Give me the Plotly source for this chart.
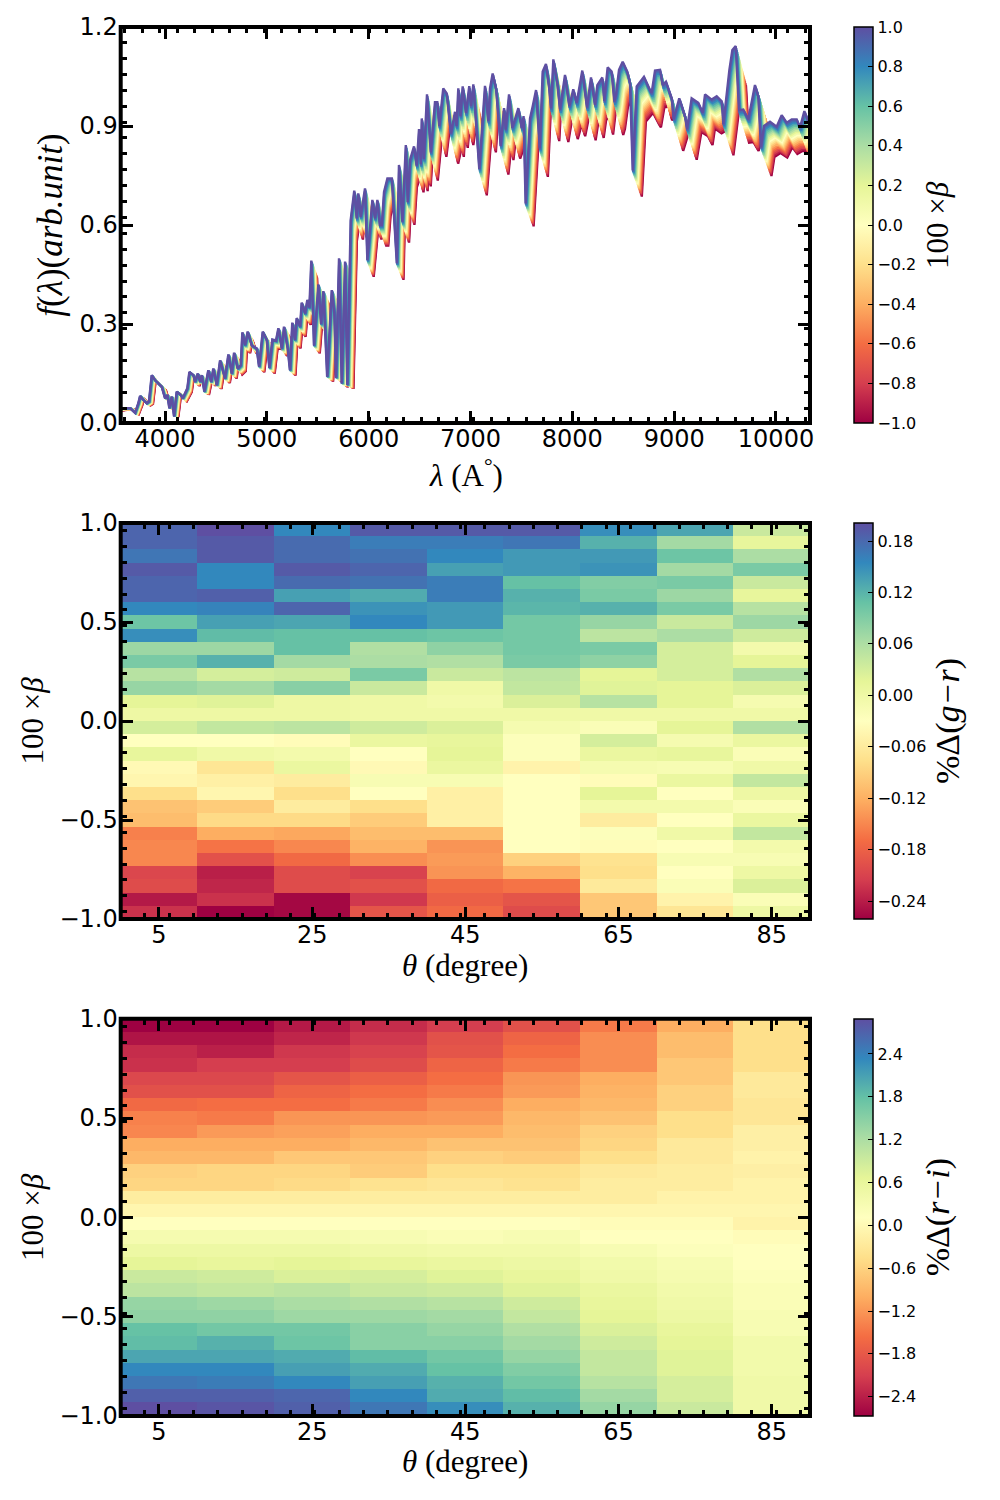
import numpy as np
import plotly.graph_objects as go
from plotly.colors import sample_colorscale

SPECTRAL = ["#9e0142", "#d53e4f", "#f46d43", "#fdae61", "#fee08b", "#ffffbf",
            "#e6f598", "#abdda4", "#66c2a5", "#3288bd", "#5e4fa2"]

# ---- top panel: spectrum read from the beta=+1 (top) curve
wave = [3500,3592,3658,3707,3739,3756,3788,3821,3843,3870,3902,3935,3968,4000,4023,4042,4065,4088,4114,4153,4173,
        4218,4238,4277,4293,4320,4342,4359,4384,4423,4450,4472,4505,4538,4586,4619,4652,4675,4710,4740,4756,
        4782,4808,4847,4896,4919,4955,4994,5020,5049,5085,5108,5141,5163,5199,5221,5244,5270,5287,5320,5336,
        5369,5391,5411,5430,5456,5499,5525,5548,5585,5630,5655,5671,5701,5727,5760,5782,5815,5850,5874,5889,
        5913,5955,5978,6027,6053,6076,6100,6119,6141,6174,6217,6266,6287,6320,6354,6372,6395,6434,6460,6483,
        6500,6510,6530,6561,6598,6639,6662,6681,6720,6754,6795,6835,6850,6867,6888,6910,6942,6974,6991,7014,
        7072,7128,7160,7177,7203,7236,7281,7314,7330,7363,7395,7454,7487,7505,7525,7568,7594,7627,7663,7692,
        7724,7754,7773,7796,7835,7861,7910,7952,7991,8024,8079,8125,8164,8203,8226,8275,8294,8327,8366,8392,
        8409,8438,8474,8519,8545,8572,8611,8682,8741,8757,8790,8839,8865,8897,8953,8972,9027,9083,9103,9148,
        9213,9256,9279,9344,9393,9442,9458,9517,9546,9579,9611,9653,9702,9767,9799,9826,9855,9914,9979,10028,
        10077,10126,10175,10207,10250,10289,10400]
flux = [.04,.045,.045,.031,.06,.082,.07,.06,.065,.145,.13,.12,.11,.075,.085,.045,.08,.02,.095,.085,.075,
        .105,.155,.145,.125,.15,.125,.145,.095,.16,.125,.165,.115,.19,.135,.208,.15,.213,.165,.175,.275,
        .236,.277,.236,.226,.171,.277,.252,.167,.253,.25,.287,.226,.292,.226,.16,.304,.252,.318,.292,.365,
        .332,.373,.35,.492,.235,.42,.30,.40,.14,.403,.333,.137,.499,.12,.489,.115,.615,.704,.62,.696,
        .625,.711,.494,.676,.62,.676,.60,.60,.70,.741,.741,.484,.782,.61,.842,.67,.797,.838,.78,.891,
        .784,.923,.80,.996,.82,.972,.972,.90,1.014,.999,.877,.943,.90,1.014,.93,1.02,.94,1.021,.96,1.026,
        .77,1.022,.915,1.014,1.059,1.014,.84,.954,.889,.996,.894,.954,.894,.93,.665,.923,.959,1.009,.832,1.065,
        1.088,1.019,.953,1.102,1.029,.95,1.055,.96,1.011,.97,1.068,.956,1.047,.964,1.024,1.047,.975,1.078,1.065,.974,
        .995,1.07,1.095,1.065,1.03,.765,1.02,1.049,1.009,1.0,1.068,1.07,1.024,1.034,.984,.92,.984,.93,.89,.984,
        .97,.94,.996,.98,.99,.975,.905,1.07,1.13,1.142,.948,.95,.92,1.024,.99,.835,.90,.913,.898,.933,
        .91,.92,.92,.895,.945,.913,.93]
# correction of the wavelength reading about 4000 A, from re-measuring the axis ticks
wave_calibration = 1.0046
# the curves are the same spectrum, displaced along wavelength and scaled in flux per beta
beta_lines = [-1.0,-.9,-.8,-.7,-.6,-.5,-.4,-.3,-.2,-.1,0,.1,.2,.3,.4,.5,.6,.7,.8,.9,1.0]
wave_shift_per_beta = 0.0052
flux_scale_per_beta = 0.052

# ---- middle panel: %Delta(g-r), one list per theta bin, rows from beta=+1 down to beta=-1
gr_05 = [.183,.183,.169,.192,.183,.183,.155,.104,.150,.072,.095,.053,.076,.016,.002,.030,-.030,.012,-.039,-.044,-.076,-.104,-.109,-.155,-.150,-.150,-.206,-.201,-.243,-.224]
gr_15 = [.201,.192,.192,.155,.155,.187,.159,.136,.113,.072,.122,.030,.067,.021,.002,.044,-.030,-.002,-.067,-.053,-.044,-.095,-.081,-.122,-.164,-.196,-.238,-.233,-.224,-.261]
gr_25 = [.155,.178,.178,.192,.178,.136,.183,.132,.109,.109,.067,.035,.086,.002,.002,.049,-.035,-.007,.007,-.058,-.076,-.058,-.081,-.127,-.150,-.173,-.201,-.201,-.256,-.256]
gr_35 = [.192,.164,.173,.183,.173,.127,.146,.155,.109,.058,.062,.095,.039,-.002,-.002,.035,.007,-.030,-.039,-.016,-.030,-.076,-.095,-.109,-.118,-.145,-.210,-.196,-.219,-.192]
gr_45 = [.192,.164,.155,.136,.164,.164,.141,.141,.104,.081,.058,.039,-.002,-.007,-.002,.025,.012,.016,.007,-.016,-.053,-.053,-.053,-.109,-.141,-.136,-.141,-.173,-.182,-.173]
gr_55 = [.192,.169,.141,.141,.109,.122,.118,.099,.099,.099,.095,.049,.044,.025,-.002,-.012,-.025,-.025,-.048,-.030,-.030,-.030,-.030,-.030,-.030,-.090,-.118,-.164,-.192,-.201]
gr_65 = [.150,.122,.141,.146,.090,.095,.122,.076,.049,.095,.081,.016,.021,.053,-.002,-.021,.030,.007,-.012,-.035,.016,-.007,-.058,-.025,-.035,-.072,-.076,-.062,-.099,-.099]
gr_75 = [.132,.067,.104,.067,.095,.072,.095,.039,.062,.030,.030,.030,.016,.016,-.002,.016,-.012,.012,-.016,.007,-.030,-.007,-.030,-.002,-.030,-.016,-.030,-.021,-.048,-.067]
gr_85 = [.039,.012,.062,.095,.039,.012,.053,.072,.035,-.007,.016,.058,.025,-.012,-.002,.058,.007,-.021,-.002,.044,.002,-.021,.007,.044,-.007,-.016,.002,.025,-.021,.002]

# ---- bottom panel: %Delta(r-i)
ri_05 = [-2.67,-2.50,-2.28,-2.23,-2.00,-1.89,-1.61,-1.39,-1.34,-1.00,-.89,-.61,-.56,-.22,-.06,.11,.33,.50,.67,.94,1.06,1.39,1.44,1.78,1.83,2.06,2.33,2.50,2.72,2.89]
ri_15 = [-2.67,-2.50,-2.39,-2.11,-2.00,-1.89,-1.56,-1.45,-1.17,-1.00,-.89,-.56,-.56,-.22,-.06,.11,.33,.50,.61,.89,1.00,1.33,1.44,1.67,1.94,2.06,2.33,2.45,2.72,2.83]
ri_25 = [-2.45,-2.34,-2.17,-2.11,-1.84,-1.67,-1.56,-1.22,-1.11,-1.00,-.72,-.56,-.50,-.22,-.06,.11,.33,.50,.67,.78,1.06,1.22,1.33,1.67,1.72,2.00,2.11,2.33,2.67,2.72]
ri_35 = [-2.28,-2.17,-2.06,-1.95,-1.72,-1.56,-1.45,-1.22,-1.00,-.89,-.72,-.67,-.39,-.22,-.06,.11,.28,.44,.61,.83,.94,1.17,1.33,1.50,1.50,1.83,2.00,2.11,2.33,2.50]
ri_45 = [-2.11,-1.89,-1.84,-1.67,-1.56,-1.45,-1.28,-1.17,-1.00,-.78,-.61,-.45,-.33,-.22,-.06,.11,.22,.39,.55,.72,.89,1.11,1.28,1.39,1.50,1.67,1.78,1.94,2.00,2.28]
ri_55 = [-1.89,-1.67,-1.56,-1.45,-1.22,-1.17,-1.00,-.89,-.84,-.78,-.67,-.45,-.39,-.22,-.06,.11,.28,.39,.50,.61,.72,.89,1.00,1.17,1.28,1.39,1.56,1.67,1.83,1.94]
ri_65 = [-1.45,-1.28,-1.28,-1.28,-1.00,-.95,-.89,-.78,-.61,-.56,-.45,-.28,-.22,-.22,-.06,.05,.11,.28,.39,.44,.55,.61,.67,.78,.89,1.00,1.00,1.11,1.28,1.39]
ri_75 = [-1.00,-.84,-.84,-.72,-.72,-.61,-.61,-.45,-.45,-.28,-.28,-.22,-.22,-.11,-.06,.05,.11,.17,.28,.33,.39,.44,.50,.61,.67,.72,.72,.83,.83,.94]
ri_85 = [-.45,-.45,-.45,-.45,-.28,-.28,-.33,-.33,-.17,-.17,-.11,-.17,-.11,-.11,-.06,-.11,.05,.11,.11,.17,.22,.22,.28,.28,.39,.39,.39,.44,.44,.44]

theta_edges = [0, 10, 20, 30, 40, 50, 60, 70, 80, 90]
beta_edges = np.linspace(-1, 1, 31)
theta_ticks = [5, 25, 45, 65, 85]
beta_ticks = [-1.0, -0.5, 0.0, 0.5, 1.0]
flux_ticks = [0.0, 0.3, 0.6, 0.9, 1.2]
wave_ticks = [4000, 5000, 6000, 7000, 8000, 9000, 10000]
gr_cbar_ticks = [-.24, -.18, -.12, -.06, 0, .06, .12, .18]
ri_cbar_ticks = [-2.4, -1.8, -1.2, -.6, 0, .6, 1.2, 1.8, 2.4]
beta_cbar_ticks = [-1, -.8, -.6, -.4, -.2, 0, .2, .4, .6, .8, 1]

W, H = 1000, 1500
L, R = 120.7, 810
PANELS = [(27, 423), (523, 919), (1018.7, 1416)]
CB_L = 854
SERIF = "Liberation Serif"
SANS = "DejaVu Sans"
TICK = dict(family=SANS, size=24, color="black")
TITLE = dict(family=SERIF, size=31, color="black")


def dom_y(top, bot):
    return [1 - bot / H, 1 - top / H]


def cbar(top, bot, tickvals, fmt):
    return dict(
        x=CB_L / W, xanchor="left", xpad=0, ypad=0, thickness=19, thicknessmode="pixels",
        y=1 - bot / H, yanchor="bottom", len=bot - top, lenmode="pixels",
        tickmode="array", tickvals=tickvals, tickformat=fmt, ticks="inside", ticklen=5, tickwidth=1,
        tickcolor="black", tickfont=dict(family=SANS, size=16, color="black"),
        outlinewidth=1.5, outlinecolor="black",
    )


def axis_style(ticks, tick0, dtick, fmt=None, standoff=0):
    d = dict(
        tickmode="array", tickvals=ticks, ticks="inside", ticklen=12, tickwidth=3, tickcolor="black",
        tickfont=TICK, showgrid=False, zeroline=False, showline=False, mirror="ticks", automargin=False,
        ticklabelstandoff=standoff,
        minor=dict(ticks="inside", ticklen=6, tickwidth=2.5, tickcolor="black", tick0=tick0, dtick=dtick, showgrid=False),
    )
    if fmt:
        d["tickformat"] = fmt
    return d


fig = go.Figure()

# spectra, red first so that blue lies on top
colors = sample_colorscale(SPECTRAL, [(b + 1) / 2 for b in beta_lines])
w_base = 4000 + (np.array(wave, dtype=float) - 4000) * wave_calibration
f_base = np.array(flux, dtype=float)
for b, c in zip(beta_lines, colors):
    fig.add_trace(go.Scatter(
        x=w_base * (1 + wave_shift_per_beta * (1 - b)),
        y=f_base * (1 - flux_scale_per_beta * (1 - b)),
        mode="lines", line=dict(color=c, width=2.4), showlegend=False, hoverinfo="skip",
        xaxis="x", yaxis="y"))
# colour bar of the spectra
fig.add_trace(go.Scatter(
    x=[3000, 3000], y=[-1, -1], mode="markers", showlegend=False, hoverinfo="skip",
    marker=dict(color=[-1, 1], cmin=-1, cmax=1, colorscale=SPECTRAL, size=1,
                colorbar=cbar(*PANELS[0], beta_cbar_ticks, ".1f")),
    xaxis="x", yaxis="y"))

gr = np.array([gr_05, gr_15, gr_25, gr_35, gr_45, gr_55, gr_65, gr_75, gr_85]).T[::-1]
ri = np.array([ri_05, ri_15, ri_25, ri_35, ri_45, ri_55, ri_65, ri_75, ri_85]).T[::-1]

fig.add_trace(go.Heatmap(x=theta_edges, y=beta_edges, z=gr, colorscale=SPECTRAL, zmin=-.261, zmax=.201,
                         colorbar=cbar(*PANELS[1], gr_cbar_ticks, ".2f"), xaxis="x2", yaxis="y2", hoverinfo="skip"))
fig.add_trace(go.Heatmap(x=theta_edges, y=beta_edges, z=ri, colorscale=SPECTRAL, zmin=-2.67, zmax=2.89,
                         colorbar=cbar(*PANELS[2], ri_cbar_ticks, ".1f"), xaxis="x3", yaxis="y3", hoverinfo="skip"))

xdom = [L / W, R / W]
layout = dict(
    width=W, height=H, margin=dict(l=0, r=0, t=0, b=0, autoexpand=False), paper_bgcolor="white", plot_bgcolor="white",
    font=dict(family=SANS, color="black"), showlegend=False,
    xaxis=dict(domain=xdom, range=[3565, 10334], anchor="y", tickformat="d",
               **axis_style(wave_ticks, 3606, 171.3, None, -1)),
    yaxis=dict(domain=dom_y(*PANELS[0]), range=[0, 1.2], anchor="x",
               title=dict(text="<i>f</i>(<i>λ</i>)(<i>arb.unit</i>)", font=dict(family=SERIF, size=35, color="black"), standoff=6),
               **axis_style(flux_ticks, .0445, .0482, ".1f", 2)),
    xaxis2=dict(domain=xdom, range=[0, 90], anchor="y2", **axis_style(theta_ticks, 0, 3.17, None, -1)),
    yaxis2=dict(domain=dom_y(*PANELS[1]), range=[-1, 1], anchor="x2",
                title=dict(text="100 ×<i>β</i>", font=TITLE, standoff=6), **axis_style(beta_ticks, -.963, .0802, ".1f", 2)),
    xaxis3=dict(domain=xdom, range=[0, 90], anchor="y3", **axis_style(theta_ticks, 0, 3.17, None, -1)),
    yaxis3=dict(domain=dom_y(*PANELS[2]), range=[-1, 1], anchor="x3",
                title=dict(text="100 ×<i>β</i>", font=TITLE, standoff=6), **axis_style(beta_ticks, -.963, .0802, ".1f", 2)),
)
fig.update_layout(**layout)

# heavy frame, centred on the axes' edges
for top, bot in PANELS:
    fig.add_shape(type="rect", xref="paper", yref="paper", x0=L / W, x1=R / W, y0=1 - bot / H, y1=1 - top / H,
                  line=dict(color="black", width=4), fillcolor="rgba(0,0,0,0)", layer="above")

# x-axis titles
for text, xpos, ypos in [("<i>λ</i> (A<sup>°</sup>)", 466, 473),
                         ("<i>θ</i> (degree)", 465, 965),
                         ("<i>θ</i> (degree)", 465, 1461)]:
    fig.add_annotation(text=text, xref="paper", yref="paper", x=xpos / W, y=1 - ypos / H,
                       showarrow=False, font=TITLE, xanchor="center", yanchor="middle")

# colour-bar titles read bottom to top
for text, xpos, size, (top, bot) in [("100 ×<i>β</i>", 937, 31, PANELS[0]),
                                     ("%Δ(<i>g−r</i>)", 948, 34, PANELS[1]),
                                     ("%Δ(<i>r−i</i>)", 938, 34, PANELS[2])]:
    fig.add_annotation(text=text, xref="paper", yref="paper", x=xpos / W, y=1 - (top + bot) / 2 / H,
                       showarrow=False, textangle=-90, font=dict(family=SERIF, size=size, color="black"),
                       xanchor="center", yanchor="middle")

fig.write_html("out.html", config=dict(displayModeBar=False),
               post_script="document.body.style.margin='0';window.dispatchEvent(new Event('resize'));")
